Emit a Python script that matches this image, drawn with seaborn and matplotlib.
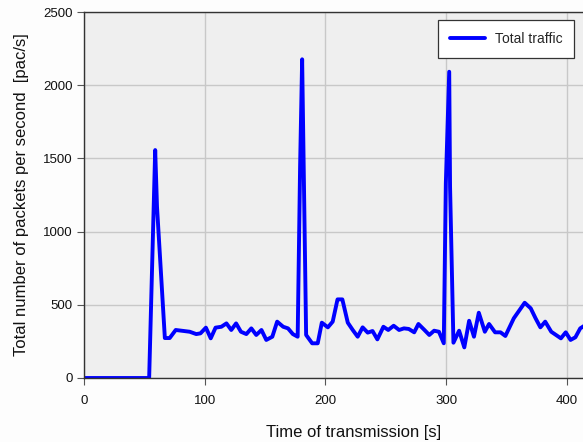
import matplotlib
matplotlib.use("Agg")
import matplotlib.pyplot as plt
import seaborn as sns
import pandas as pd

# Lecturas aproximadas de la curva (tiempo [s], paquetes/s)
time_s = [0, 54, 59, 60.5, 67, 71, 76, 87.6, 93, 96.5, 101, 105, 109, 113.8,
          118, 122, 126, 130, 134.5, 138.6, 142.7, 147, 151, 156, 160, 165,
          169, 173, 177, 179, 180.7, 184, 189, 193.6, 197, 202, 206, 210,
          214, 218.5, 222.6, 226.7, 230.8, 235, 239, 243, 248, 252, 256.5,
          261, 265, 269, 273.5, 277, 282, 286, 290, 294, 298, 299.7, 302.5,
          303.2, 306, 310.7, 315, 319, 323, 327, 332, 335.5, 340.5, 345, 349,
          356, 365, 370, 374, 378, 382, 387, 395, 399, 403, 407, 411, 415]
packets = [0, 0, 1557, 1170, 273, 273, 328, 316, 300, 305, 344, 271, 344, 350,
           373, 328, 373, 316, 300, 339, 294, 328, 260, 282, 385, 350,
           339, 300, 282, 1443, 2177, 294, 237, 237, 378, 346, 385, 537,
           537, 378, 328, 282, 346, 310, 321, 264, 350, 328, 357,
           328, 339, 335, 312, 369, 328, 294, 323, 316, 237, 1329, 2092,
           1307, 241, 323, 209, 391, 282, 446, 316, 369, 312, 312, 287,
           408, 514, 476, 408, 346, 385, 316, 271, 312, 260, 278, 339, 360]

y_ticks = [0, 500, 1000, 1500, 2000, 2500]
x_ticks = [0, 100, 200, 300, 400]

df = pd.DataFrame({"time": time_s, "packets": packets})

sns.set_theme(style="whitegrid")
plt.rcParams["font.family"] = ["Liberation Sans", "DejaVu Sans"]

fig = plt.figure(figsize=(5.83, 4.42), dpi=100)
fig.patch.set_facecolor("#fdfdfd")
ax = fig.add_axes([0.144, 0.1448, 0.856, 0.828])
ax.set_facecolor("#efefef")

sns.lineplot(data=df, x="time", y="packets", ax=ax, color="#0000ff",
             linewidth=2.8, label="Total traffic", sort=False)

ax.set_xlim(0, 413.3)
ax.set_ylim(0, 2500)
ax.set_xticks(x_ticks)
ax.set_yticks(y_ticks)
ax.grid(True, color="#c8c8c8", linewidth=1.0)
ax.tick_params(axis="both", direction="out", length=5, width=0.8,
               color="#555555", labelsize=9.5, labelcolor="#111111",
               left=True, bottom=True)
ax.tick_params(axis="x", pad=7)
ax.tick_params(axis="y", pad=3)

for side in ["left", "bottom", "top"]:
    ax.spines[side].set_color("#333333")
    ax.spines[side].set_linewidth(1.0)
ax.spines["right"].set_visible(False)

# el eje original es mas ancho que la imagen recortada: etiqueta descentrada
ax.set_xlabel("Time of transmission [s]", fontsize=12, color="#111111")
ax.xaxis.set_label_coords(0.541, -0.128)
ax.set_ylabel("Total number of packets per second  [pac/s]", fontsize=12,
              color="#111111", labelpad=10)

leg = ax.legend(loc="upper right", bbox_to_anchor=(0.982, 0.978), fontsize=10,
                frameon=True, fancybox=False, handlelength=2.5,
                handletextpad=0.7, borderpad=0.85, borderaxespad=0)
leg.get_frame().set_edgecolor("#333333")
leg.get_frame().set_facecolor("white")
leg.get_frame().set_alpha(1.0)
leg.get_frame().set_linewidth(0.9)

fig.savefig("out.png", dpi=100, facecolor=fig.get_facecolor())
